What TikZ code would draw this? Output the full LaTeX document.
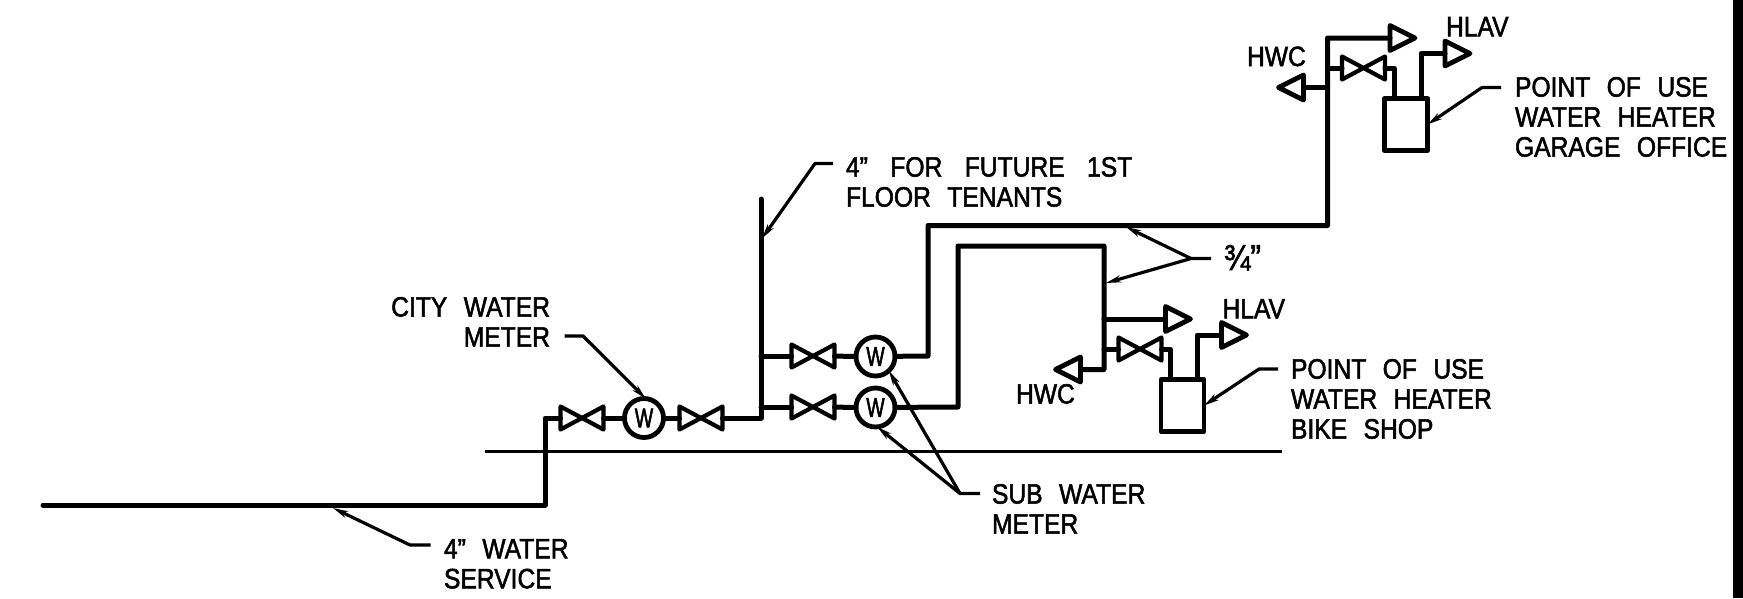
\documentclass[tikz,border=0pt]{standalone}
\usepackage{fontspec}
\usetikzlibrary{arrows.meta}
\newfontfamily\cadfont[FakeStretch=0.88,WordSpace=2.4,FakeBold=1.8]{Liberation Sans}
\newfontfamily\cadmeter[FakeStretch=0.72,FakeBold=1.8]{Liberation Sans}
\tikzset{
  x=1pt,y=-1pt,
  pipe/.style={line width=5pt,line join=round,line cap=round},
  lead/.style={line width=3.2pt,line join=round,-{Stealth[length=15pt,width=7pt]}},
  floorline/.style={line width=3.5pt},
  lbl/.style={inner sep=0pt,outer sep=0pt,font=\cadfont\fontsize{28}{30}\selectfont,text=black},
  meter/.style={circle,draw,line width=4.8pt,minimum size=39pt,inner sep=0pt,outer sep=0pt,font=\cadmeter\fontsize{27}{27}\selectfont},
  heater/.style={rectangle,draw,line width=4.8pt,line join=round,minimum width=43pt,minimum height=52pt,inner sep=0pt,outer sep=0pt},
  valve/.style={rectangle,inner sep=0pt,outer sep=0pt,minimum width=43pt,minimum height=23pt,
    append after command={\pgfextra{\draw[line width=4.2pt,line join=round]
      (\tikzlastnode.north west)--(\tikzlastnode.south east)--(\tikzlastnode.north east)--(\tikzlastnode.south west)--cycle;}}},
  flagR/.style={rectangle,inner sep=0pt,outer sep=0pt,minimum width=25pt,minimum height=25pt,
    append after command={\pgfextra{\draw[line width=4.8pt,line join=round]
      (\tikzlastnode.north west)--(\tikzlastnode.east)--(\tikzlastnode.south west)--cycle;}}},
  flagL/.style={rectangle,inner sep=0pt,outer sep=0pt,minimum width=25pt,minimum height=25pt,
    append after command={\pgfextra{\draw[line width=4.8pt,line join=round]
      (\tikzlastnode.north east)--(\tikzlastnode.west)--(\tikzlastnode.south east)--cycle;}}},
}
\begin{document}
\begin{tikzpicture}
\useasboundingbox (0,0) rectangle (1743,598);
\fill[white] (0,0) rectangle (1743,598);
\fill[black] (1733,0) rectangle (1743,598);

% floor line
\coordinate (fl) at (485,451.5);
\coordinate (fr) at (1282,451.5);
\draw[floorline] (fl)--(fr);

% devices
\node[valve] (v1) at (582,418) {};
\node[meter] (w1) at (644,418) {W};
\node[valve] (v2) at (701,418) {};
\node[valve] (vu) at (813,356) {};
\node[meter] (wu) at (875.5,356.5) {W};
\node[valve] (vl) at (813,407) {};
\node[meter] (wl) at (875.5,407.5) {W};
% garage office group
\node[valve] (vg) at (1363.5,68) {};
\node[heater] (hg) at (1406,124.5) {};
\node[flagR] (fg1) at (1402.5,38) {};
\node[flagR] (fg2) at (1457.5,53.5) {};
\node[flagL] (fg3) at (1291,87.5) {};
% bike shop group
\node[valve] (vb) at (1140,349) {};
\node[heater] (hb) at (1182.5,405.5) {};
\node[flagR] (fb1) at (1178,319) {};
\node[flagR] (fb2) at (1234,335) {};
\node[flagL] (fb3) at (1068,369.5) {};

% pipe corners
\coordinate (a0) at (43,505);
\coordinate (a1) at (545,505);
\coordinate (a2) at (545,418);
\coordinate (r0) at (761,199);
\coordinate (r1) at (761,418);
\coordinate (ru) at (761,356);
\coordinate (rl) at (761,407);
\coordinate (u1) at (928,356);
\coordinate (u2) at (928,225.5);
\coordinate (u3) at (1327.5,225.5);
\coordinate (u4) at (1327.5,38);
\coordinate (ug) at (1327.5,68);
\coordinate (uh) at (1327.5,87.5);
\coordinate (l1) at (958,407);
\coordinate (l2) at (958,246);
\coordinate (l3) at (1104,246);
\coordinate (l4) at (1104,369.5);
\coordinate (lf) at (1104,319);
\coordinate (lv) at (1104,349);
\coordinate (g1) at (1394,68);
\coordinate (g2) at (1394,98.5);
\coordinate (g3) at (1421,98.5);
\coordinate (g4) at (1421,53.5);
\coordinate (b1) at (1170,349);
\coordinate (b2) at (1170,379.5);
\coordinate (b3) at (1197,379.5);
\coordinate (b4) at (1197,335);

% pipes
\draw[pipe] (a0)--(a1)--(a2)--(v1);
\draw[pipe] (v1)--(w1);
\draw[pipe] (w1)--(v2);
\draw[pipe] (v2)--(r1)--(r0);
\draw[pipe] (ru)--(vu);
\draw[pipe] (vu)--(wu);
\draw[pipe] (rl)--(vl);
\draw[pipe] (vl)--(wl);
\draw[pipe] (wu)--(u1)--(u2)--(u3)--(u4)--(fg1);
\draw[pipe] (ug)--(vg);
\draw[pipe] (uh)--(fg3);
\draw[pipe] (vg)--(g1)--(g2);
\draw[pipe] (g3)--(g4)--(fg2);
\draw[pipe] (wl)--(l1)--(l2)--(l3)--(l4)--(fb3);
\draw[pipe] (lf)--(fb1);
\draw[pipe] (lv)--(vb);
\draw[pipe] (vb)--(b1)--(b2);
\draw[pipe] (b3)--(b4)--(fb2);

% labels
\node[lbl,anchor=north west,align=left] (t4w) at (444,539) {4” WATER\\SERVICE};
\node[lbl,anchor=north east,align=right] (tcw) at (550,297) {CITY WATER\\METER};
\node[lbl,anchor=north west,align=left] (tff) at (846,157) {4”\hspace{6pt} FOR\hspace{6pt} FUTURE\hspace{6pt} 1ST\\FLOOR TENANTS};
\node[lbl,anchor=north west,align=left] (tsw) at (992,484) {SUB WATER\\METER};
\node[lbl,anchor=north west,font=\cadfont\fontsize{36}{36}\selectfont] (t34) at (1224,245) {¾”};
\node[lbl,anchor=north west] (th1) at (1247,46.5) {HWC};
\node[lbl,anchor=north west] (th2) at (1446,17) {HLAV};
\node[lbl,anchor=north west,align=left] (tgo) at (1515,77) {POINT OF USE\\WATER HEATER\\GARAGE OFFICE};
\node[lbl,anchor=north west] (th3) at (1016,384) {HWC};
\node[lbl,anchor=north west] (th4) at (1222.5,299) {HLAV};
\node[lbl,anchor=north west,align=left] (tbs) at (1291,359) {POINT OF USE\\WATER HEATER\\BIKE SHOP};

% leaders
\coordinate (k1s) at (430.5,545); \coordinate (k1) at (410,545); \coordinate (k1e) at (333,508);
\draw[lead] (k1s)--(k1)--(k1e);
\coordinate (k2s) at (564.5,336); \coordinate (k2) at (583,336);
\draw[lead] (k2s)--(k2)--(w1.85);
\coordinate (k3s) at (833,163.5); \coordinate (k3) at (815,163.5); \coordinate (k3e) at (762,238.5);
\draw[lead] (k3s)--(k3)--(k3e);
\coordinate (k4s) at (980,493.5); \coordinate (k4) at (960,493.5);
\draw[lead] (k4s)--(k4)--(wl.-85);
\draw[lead] (k4)--(wu.-47);
\coordinate (k5s) at (1211,258.5); \coordinate (k5) at (1191,258.5);
\coordinate (k5a) at (1126,227); \coordinate (k5b) at (1106,283);
\draw[lead] (k5s)--(k5)--(k5a);
\draw[lead] (k5)--(k5b);
\coordinate (k6s) at (1501,87.5); \coordinate (k6) at (1482,87.5);
\draw[lead] (k6s)--(k6)--(hg.east);
\coordinate (k7s) at (1278,369); \coordinate (k7) at (1259,369);
\draw[lead] (k7s)--(k7)--(hb.east);
\end{tikzpicture}
\end{document}
